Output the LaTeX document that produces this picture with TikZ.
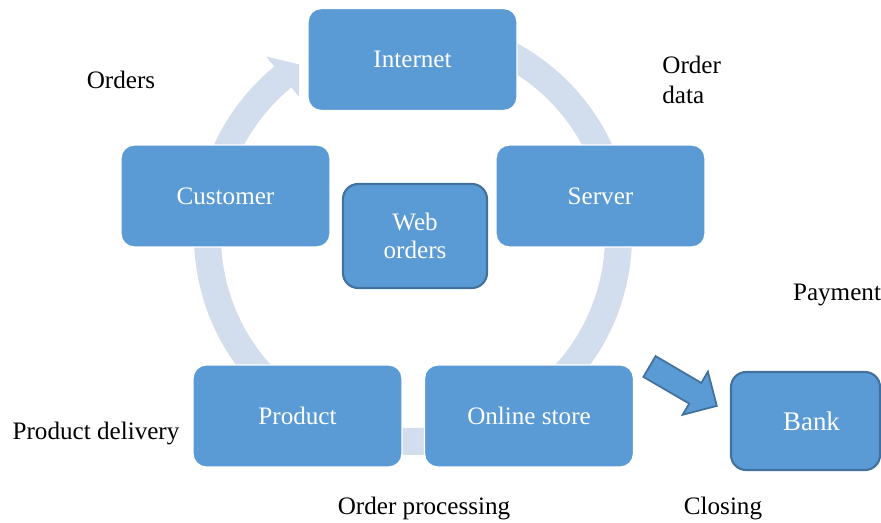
\documentclass[tikz,border=0pt]{standalone}
\usepackage{fontspec}
\setmainfont{Liberation Serif}
\definecolor{boxblue}{HTML}{5B9BD5}
\definecolor{boxedge}{HTML}{41719C}
\definecolor{ringblue}{HTML}{D2DDEE}

\begin{document}
\begin{tikzpicture}[x=0.02cm,y=-0.02cm,
  lbl/.style={font=\fontsize{14.3}{17}\selectfont, text=black, inner sep=0pt},
  stepbox/.style={draw=white, line width=0.8pt, fill=boxblue, rounded corners=0.26cm,
    text=white, font=\fontsize{14.3}{17}\selectfont,
    minimum width=4.18cm, minimum height=2.04cm, inner sep=0pt},
  edgebox/.style={draw=boxedge, line width=1.2pt, fill=boxblue, rounded corners=0.3cm,
    text=white, inner sep=0pt}]

\useasboundingbox (0,0) rectangle (881,523);

% cycle ring behind the steps, ending in an arrow head before "Internet"
\draw[ringblue, line width=0.54cm]
  plot[domain=-90:230.7, samples=160, smooth, variable=\t]
  ({413+205.5*cos(\t)},{236+205.5*sin(\t)});
\coordinate (hout) at ({413+232*cos(230.7)},{236+232*sin(230.7)});
\coordinate (htip) at ({413+206*cos(236.4)},{236+206*sin(236.4)});
\coordinate (hin)  at ({413+180*cos(230.7)},{236+180*sin(230.7)});
\fill[ringblue] (hout) -- (htip) -- (hin) -- cycle;

% steps of the cycle
\node[stepbox] (internet) at (412.5,59.5) {Internet};
\node[stepbox] (customer) at (225.5,196) {Customer};
\node[stepbox] (server)   at (600.5,196) {Server};
\node[stepbox] (product)  at (297.5,416) {Product};
\node[stepbox] (store)    at (529,416)   {Online store};

% centre and side boxes
\node[edgebox, minimum width=2.88cm, minimum height=2.08cm, align=center,
  font=\fontsize{14.3}{15.5}\selectfont] (web) at (415,236) {Web\\orders};
\node[edgebox, minimum width=2.98cm, minimum height=1.96cm,
  font=\fontsize{15.3}{18}\selectfont] (bank) at (805.5,421) {\hspace*{0.24cm}Bank};

% block arrow towards the bank
\coordinate (a1) at (655.6,356.1);
\coordinate (a2) at (701.3,382.9);
\coordinate (a3) at (707.9,371.7);
\coordinate (a4) at (716.8,405.9);
\coordinate (a5) at (682.6,414.8);
\coordinate (a6) at (689.2,403.6);
\coordinate (a7) at (643.4,376.9);
\draw[boxedge, line width=1pt, fill=boxblue, line join=miter]
  (a1) -- (a2) -- (a3) -- (a4) -- (a5) -- (a6) -- (a7) -- cycle;

% stage labels
\node[lbl] (lorders)   at (121,80)  {Orders};
\node[lbl, anchor=west, align=left] (ldata) at (662,80) {Order\\data};
\node[lbl] (lpay)      at (837,295) {Payment};
\node[lbl] (ldelivery) at (96,433)  {Product delivery};
\node[lbl] (lproc)     at (424,508) {Order processing};
\node[lbl] (lclose)    at (723,508) {Closing};
\end{tikzpicture}
\end{document}
